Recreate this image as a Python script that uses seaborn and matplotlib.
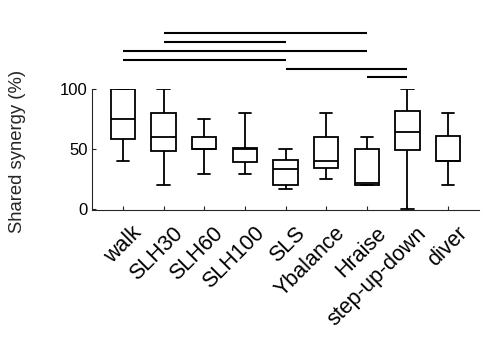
import numpy as np
import pandas as pd
import matplotlib
matplotlib.use("Agg")
import matplotlib.pyplot as plt
import matplotlib.transforms as mtransforms
import seaborn as sns

# ---- data ----
categories = ["walk", "SLH30", "SLH60", "SLH100", "SLS", "Ybalance", "Hraise",
              "step-up-down", "diver"]
whisker_low = [40, 20, 29, 29, 17, 25, 20, 0, 20]
q1 = [58, 48, 50, 39, 20, 34, 20, 49, 40]
median = [75, 60, 50, 50, 33, 40, 22, 64, 40]
q3 = [100, 80, 60, 51, 41, 60, 50, 82, 61]
whisker_high = [100, 100, 75, 80, 50, 80, 60, 100, 80]

# significance brackets (pairs of category indices) and their heights (%)
sig_pairs = [(1, 6), (1, 4), (0, 6), (0, 4), (4, 7), (6, 7)]
sig_heights = [146.5, 139, 132, 124.5, 117, 110]

# ---- build long-form table from the five-number summaries ----
rows = []
for i, c in enumerate(categories):
    for v in (whisker_low[i], q1[i], median[i], q3[i], whisker_high[i]):
        rows.append({"task": c, "value": v})
df = pd.DataFrame(rows)

sns.set_theme(style="white")
plt.rcParams["font.family"] = ["Liberation Sans", "DejaVu Sans"]

fig = plt.figure(figsize=(4.98, 3.46), dpi=100)
W, H = 498, 346
left, right, top, bottom = 92, 479, 89, 210.2
ax = fig.add_axes([left / W, 1 - bottom / H, (right - left) / W, (bottom - top) / H])

lw = 1.3
sns.boxplot(data=df, x="task", y="value", order=categories, ax=ax,
            whis=(0, 100), width=0.6, linewidth=lw, color="white",
            linecolor="black", showfliers=False,
            medianprops=dict(color="black", linewidth=lw),
            whiskerprops=dict(color="black", linewidth=lw),
            capprops=dict(color="black", linewidth=lw),
            boxprops=dict(edgecolor="black", facecolor="white", linewidth=lw))

ax.set_xlim(-0.76, len(categories) - 1 + 0.76)
ax.set_ylim(-1, 100)
ax.set_yticks([0, 50, 100])
ax.set_xlabel("")
ax.set_ylabel("")

for s in ("top", "right"):
    ax.spines[s].set_visible(False)
for s in ("left", "bottom"):
    ax.spines[s].set_color("#262626")
    ax.spines[s].set_linewidth(0.8)

ax.tick_params(axis="both", direction="in", length=3, width=0.8, color="#262626",
               labelsize=12, labelcolor="black", left=True, bottom=True)
ax.tick_params(axis="y", pad=3)

# rotated x tick labels
ax.set_xticks(range(len(categories)))
offset = mtransforms.ScaledTranslation(16 / 100, -15 / 100, fig.dpi_scale_trans)
labels = ax.set_xticklabels(categories, rotation=45, ha="right", va="center",
                            rotation_mode="anchor", fontsize=15.5)
for lab in labels:
    lab.set_transform(lab.get_transform() + offset)

fig.text(18 / W, 1 - 151 / H, "Shared synergy (%)", rotation=90,
         ha="center", va="center", fontsize=13.3)

# significance lines
for (a, b), h in zip(sig_pairs, sig_heights):
    ax.plot([a, b], [h, h], color="black", linewidth=1.5, clip_on=False,
            solid_capstyle="butt")

fig.savefig("out.png", dpi=100)
